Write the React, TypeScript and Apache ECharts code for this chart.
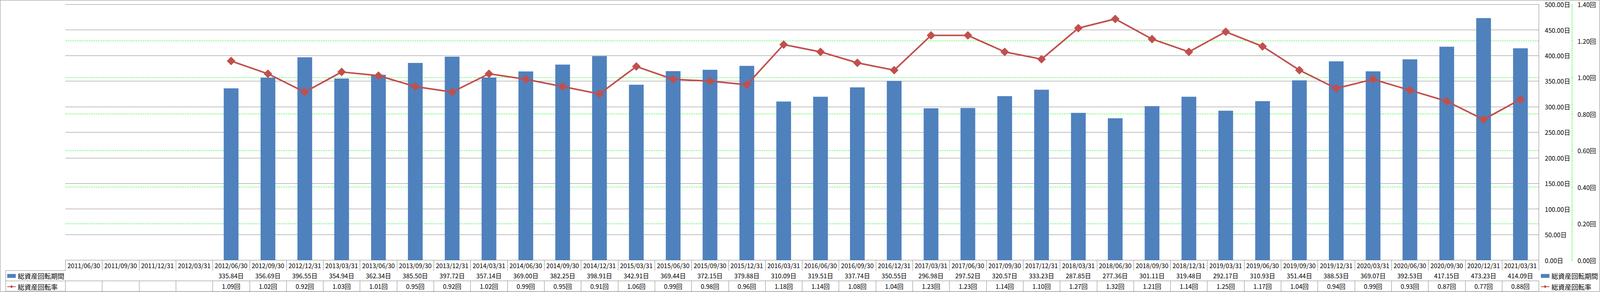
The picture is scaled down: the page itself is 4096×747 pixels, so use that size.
import React, { useEffect, useRef } from 'react';
import * as echarts from 'echarts';

const categories = [
  '2011/06/30', '2011/09/30', '2011/12/31', '2012/03/31',
  '2012/06/30', '2012/09/30', '2012/12/31', '2013/03/31',
  '2013/06/30', '2013/09/30', '2013/12/31', '2014/03/31',
  '2014/06/30', '2014/09/30', '2014/12/31', '2015/03/31',
  '2015/06/30', '2015/09/30', '2015/12/31', '2016/03/31',
  '2016/06/30', '2016/09/30', '2016/12/31', '2017/03/31',
  '2017/06/30', '2017/09/30', '2017/12/31', '2018/03/31',
  '2018/06/30', '2018/09/30', '2018/12/31', '2019/03/31',
  '2019/06/30', '2019/09/30', '2019/12/31', '2020/03/31',
  '2020/06/30', '2020/09/30', '2020/12/31', '2021/03/31',
];

const periodDays: (number | null)[] = [
  null, null, null, null,
  335.84, 356.69, 396.55, 354.94,
  362.34, 385.5, 397.72, 357.14,
  369.0, 382.25, 398.91, 342.91,
  369.44, 372.15, 379.88, 310.09,
  319.51, 337.74, 350.55, 296.98,
  297.52, 320.57, 333.23, 287.85,
  277.36, 301.11, 319.48, 292.17,
  310.93, 351.44, 388.53, 369.07,
  392.53, 417.15, 473.23, 414.09,
];

const turnoverRate: (number | null)[] = [
  null, null, null, null,
  1.09, 1.02, 0.92, 1.03,
  1.01, 0.95, 0.92, 1.02,
  0.99, 0.95, 0.91, 1.06,
  0.99, 0.98, 0.96, 1.18,
  1.14, 1.08, 1.04, 1.23,
  1.23, 1.14, 1.1, 1.27,
  1.32, 1.21, 1.14, 1.25,
  1.17, 1.04, 0.94, 0.99,
  0.93, 0.87, 0.77, 0.88,
];

const seriesNames = ['総資産回転期間', '総資産回転率'];
const dayAxis = { min: 0, max: 500, interval: 50, unit: '日' };
const rateAxis = { min: 0, max: 1.4, interval: 0.2, unit: '回' };

const S = 0.697;
const W = 4096;
const H = 747;
const FONT = '"Noto Sans CJK JP", "Noto Sans", sans-serif';
const GREY = '#878787';
const GREEN = '#00FF00';
const BLUE = '#4F81BD';
const RED = '#C0504D';
const FS = 16;

export default function App() {
  const ref = useRef<HTMLDivElement>(null);

  useEffect(() => {
    if (!ref.current) return;
    const chart = echarts.init(ref.current, undefined, { renderer: 'svg' });

    const gridLeft = 240 * S;
    const gridRight = W - 5652 * S;
    const gridTop = 16 * S;
    const gridBottomY = 955 * S;
    const gridBottom = H - gridBottomY;
    const R = 38 * S;

    const tableAxis = (offset: number, formatter: any, ticks: boolean, showLabel: boolean) => ({
      type: 'category',
      data: categories,
      position: 'bottom',
      offset,
      boundaryGap: true,
      axisLine: { show: true, lineStyle: { color: GREY, width: 1 } },
      axisTick: { show: ticks, interval: 0, length: R, inside: false, lineStyle: { color: GREY, width: 1 } },
      axisLabel: {
        show: showLabel,
        interval: 0,
        formatter,
        margin: R / 2,
        verticalAlign: 'middle',
        color: '#000',
        fontSize: FS,
        fontFamily: FONT,
      },
      splitLine: { show: false },
    });

    const legendCommon = {
      orient: 'vertical',
      top: gridBottomY + R * 1.5 - 8,
      itemGap: R - 16,
      itemWidth: 22,
      itemHeight: 10,
      padding: 0,
      selectedMode: false,
      textStyle: { color: '#000', fontSize: 17, fontFamily: FONT },
      data: [{ name: seriesNames[0], icon: 'rect' }, { name: seriesNames[1] }],
    };

    const option: any = {
      animation: false,
      backgroundColor: '#fff',
      textStyle: { fontFamily: FONT },
      grid: { left: gridLeft, right: gridRight, top: gridTop, bottom: gridBottom, containLabel: false },
      legend: [
        { ...legendCommon, left: 25 * S },
        { ...legendCommon, left: 5658 * S },
      ],
      xAxis: [
        tableAxis(0, (v: string) => v, true, true),
        tableAxis(R, (_v: string, i: number) => (periodDays[i] == null ? '' : (periodDays[i] as number).toFixed(2) + dayAxis.unit), true, true),
        tableAxis(R * 2, (_v: string, i: number) => (turnoverRate[i] == null ? '' : (turnoverRate[i] as number).toFixed(2) + rateAxis.unit), true, true),
        tableAxis(R * 3, () => '', false, false),
      ],
      yAxis: [
        {
          type: 'value',
          position: 'right',
          min: dayAxis.min,
          max: dayAxis.max,
          interval: dayAxis.interval,
          axisLine: { show: true, lineStyle: { color: GREY, width: 1 } },
          axisTick: { show: false },
          splitLine: { show: true, lineStyle: { color: GREY, width: 1, type: 'solid' } },
          axisLabel: {
            margin: 22 * S,
            color: '#000',
            fontSize: FS,
            fontFamily: FONT,
            formatter: (v: number) => v.toFixed(2) + dayAxis.unit,
          },
        },
        {
          type: 'value',
          position: 'right',
          offset: (5773 - 5652) * S,
          min: rateAxis.min,
          max: rateAxis.max,
          interval: rateAxis.interval,
          axisLine: { show: true, lineStyle: { color: GREEN, width: 1, type: [4, 2] } },
          axisTick: { show: true, inside: false, length: 3, lineStyle: { color: GREEN, width: 1 } },
          splitLine: {
            show: true,
            showMinLine: false,
            showMaxLine: false,
            lineStyle: { color: GREEN, width: 1, type: [4, 2] },
          },
          axisLabel: {
            margin: (5794 - 5773) * S,
            color: '#000',
            fontSize: FS,
            fontFamily: FONT,
            formatter: (v: number) => v.toFixed(2) + rateAxis.unit,
          },
        },
      ],
      series: [
        {
          name: seriesNames[0],
          type: 'bar',
          xAxisIndex: 0,
          yAxisIndex: 0,
          data: periodDays,
          barWidth: '40%',
          itemStyle: { color: BLUE },
          z: 2,
        },
        {
          name: seriesNames[1],
          type: 'line',
          xAxisIndex: 0,
          yAxisIndex: 1,
          data: turnoverRate,
          symbol: 'diamond',
          symbolSize: 22,
          itemStyle: { color: RED },
          lineStyle: { color: RED, width: 4 },
          z: 3,
        },
      ],
      graphic: [
        {
          type: 'rect',
          shape: { x: 0.5, y: 0.5, width: 5875 * S - 0.5, height: 1070 * S - 0.5 },
          style: { fill: 'none', stroke: GREY, lineWidth: 1 },
          silent: true,
          z: 0,
        },
        ...[1, 2, 3].map((k) => ({
          type: 'line',
          shape: { x1: 21 * S, y1: gridBottomY + R * k, x2: gridLeft, y2: gridBottomY + R * k },
          style: { stroke: GREY, lineWidth: 1 },
          silent: true,
        })),
        {
          type: 'line',
          shape: { x1: 21 * S, y1: gridBottomY + R, x2: 21 * S, y2: gridBottomY + R * 3 },
          style: { stroke: GREY, lineWidth: 1 },
          silent: true,
        },
      ],
    };

    chart.setOption(option);
    return () => chart.dispose();
  }, []);

  return (
    <div
      ref={ref}
      style={{ position: 'fixed', left: 0, top: 0, width: W, height: H, background: '#fff' }}
    />
  );
}
